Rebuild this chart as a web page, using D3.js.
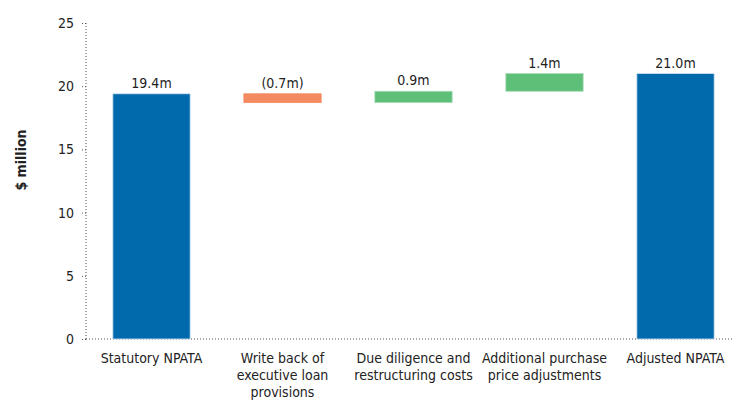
<!DOCTYPE html>
<html>
<head>
<meta charset="utf-8">
<script src="https://cdn.jsdelivr.net/npm/d3@7"></script>
<style>
  body { margin: 0; background: #fff; }
  svg text { font-family: "DejaVu Sans Condensed", "DejaVu Sans", sans-serif; font-stretch: condensed; fill: #222; }
</style>
</head>
<body>
<svg id="chart" width="733" height="400"></svg>
<script>
// chart data
var categories = ['Statutory NPATA', 'Write back of|executive loan|provisions', 'Due diligence and|restructuring costs', 'Additional purchase|price adjustments', 'Adjusted NPATA'];
var changes = [19.4, -0.7, 0.9, 1.4, 21.0];
var kinds = ['total', 'neg', 'pos', 'pos', 'total'];
var valueLabels = ['19.4m', '(0.7m)', '0.9m', '1.4m', '21.0m'];
var yTicks = [0, 5, 10, 15, 20, 25];

var colors = { total: '#006aad', neg: '#f48a60', pos: '#5dbf78' };
var strokes = { total: '#cfe0ee', neg: '#f48a60', pos: '#a8dcb6' };

var svg = d3.select('#chart');

// build running start/end for waterfall
var running = 0;
var bars = categories.map(function(c, i) {
    var start, end;
    if (kinds[i] === 'total') {
        start = 0; end = changes[i]; running = changes[i];
    } else {
        start = running; end = running + changes[i]; running = end;
    }
    return { cat: c, start: start, end: end, kind: kinds[i], label: valueLabels[i] };
});

var x = d3.scaleBand().domain(categories).range([86, 741]).paddingInner(0.41).paddingOuter(0.205);
var y = d3.scaleLinear().domain([0, 25]).range([339, 23]);

// y axis (dotted)
var yAxis = svg.append('g')
    .attr('transform', 'translate(86,0)')
    .call(d3.axisLeft(y).tickValues(yTicks).tickSize(5).tickPadding(7));
yAxis.selectAll('text').style('font-size', '14px');
yAxis.select('.domain').attr('stroke', '#555').attr('stroke-dasharray', '1,2').attr('d', 'M0,' + y(25) + 'V' + y(0));
yAxis.selectAll('.tick line').attr('stroke', '#555').attr('stroke-dasharray', '1,2');

// x axis line (dotted)
svg.append('line')
    .attr('x1', 86).attr('x2', 733)
    .attr('y1', y(0)).attr('y2', y(0))
    .attr('stroke', '#555').attr('stroke-dasharray', '1,2');

// bars
svg.selectAll('.bar')
    .data(bars)
    .enter().append('rect')
    .attr('class', 'bar')
    .attr('x', d => x(d.cat))
    .attr('width', x.bandwidth())
    .attr('y', d => y(Math.max(d.start, d.end)))
    .attr('height', d => Math.abs(y(d.start) - y(d.end)))
    .attr('fill', d => colors[d.kind])
    .attr('stroke', d => strokes[d.kind])
    .attr('stroke-width', 0.8);

// value labels
svg.selectAll('.vlabel')
    .data(bars)
    .enter().append('text')
    .attr('class', 'vlabel')
    .attr('text-anchor', 'middle')
    .attr('x', d => x(d.cat) + x.bandwidth() / 2)
    .attr('y', d => y(Math.max(d.start, d.end)) - 6)
    .style('font-size', '14px')
    .text(d => d.label);

// category labels, multi-line
var catG = svg.selectAll('.clabel')
    .data(categories)
    .enter().append('text')
    .attr('class', 'clabel')
    .attr('text-anchor', 'middle')
    .style('font-size', '14px');
catG.each(function(c) {
    var t = d3.select(this);
    c.split('|').forEach(function(line, j) {
        t.append('tspan')
            .attr('x', x(c) + x.bandwidth() / 2)
            .attr('y', 363 + j * 17)
            .text(line);
    });
});

// y axis title
svg.append('text')
    .attr('transform', 'translate(26,160) rotate(-90)')
    .attr('text-anchor', 'middle')
    .style('font-size', '14px')
    .style('font-weight', 'bold')
    .text('$ million');
</script>
</body>
</html>
